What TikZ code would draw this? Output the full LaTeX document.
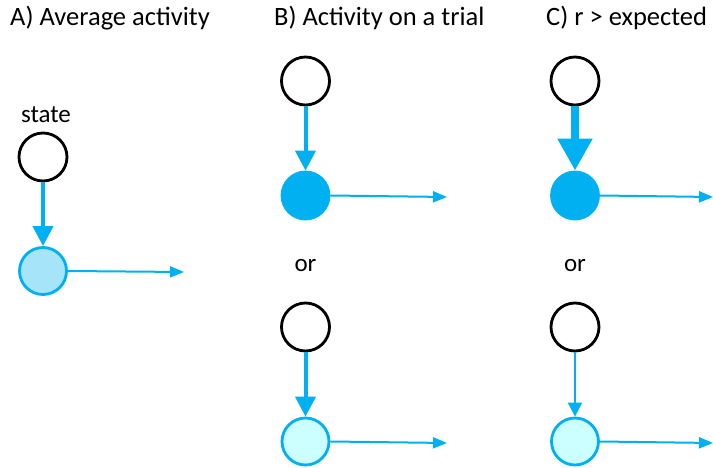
\documentclass[tikz,border=0pt]{standalone}
\usepackage{fontspec}
\setmainfont{Carlito}
\usetikzlibrary{arrows.meta}
\definecolor{cblue}{RGB}{0,176,240}
\definecolor{afill}{RGB}{166,228,250}
\definecolor{lfill}{RGB}{204,255,255}
\tikzset{
  statenode/.style={circle,draw=black,line width=2.8pt,minimum size=48pt,inner sep=0pt,fill=white},
  actnode/.style={circle,draw=cblue,line width=2.8pt,minimum size=47pt,inner sep=0pt},
  lbl/.style={font=\fontsize{25}{29}\selectfont,inner sep=0pt},
  title/.style={font=\fontsize{26.5}{30}\selectfont,inner sep=0pt},
  vmid/.style={draw=cblue,line width=4pt,-{Triangle[length=20pt,width=20pt]}},
  vthick/.style={draw=cblue,line width=8.5pt,-{Triangle[length=32pt,width=33pt]}},
  vthin/.style={draw=cblue,line width=1.8pt,-{Triangle[length=14pt,width=14pt]}},
  hout/.style={draw=cblue,line width=2pt,-{Triangle[length=14pt,width=11pt]}}
}
\begin{document}
\begin{tikzpicture}[x=1pt,y=-1pt]
\useasboundingbox (0,0) rectangle (713,468);
% titles
\node[title,anchor=base west] (ta) at (10,26) {A) Average activity};
\node[title,anchor=base west] (tb) at (274,26) {B) Activity on a trial};
\node[title,anchor=base west] (tc) at (546,26) {C) r > expected};
% panel A
\node[lbl,anchor=base] (st) at (46,123) {state};
\node[statenode] (a1) at (43,157) {};
\node[actnode,fill=afill] (a2) at (43,271) {};
\coordinate (ae) at (184,272);
\draw[vmid] (a1.south) -- (a2.north);
\draw[hout] (a2.east) -- (ae);
% panel B top
\node[statenode] (b1) at (305.5,81) {};
\node[actnode,fill=cblue] (b2) at (305.5,195.5) {};
\coordinate (be) at (447,197);
\draw[vmid] (b1.south) -- (b2.north);
\draw[hout] (b2.east) -- (be);
\node[lbl,anchor=base] (bor) at (305.5,271) {or};
% panel B bottom
\node[statenode] (b3) at (305.5,327) {};
\node[actnode,fill=lfill] (b4) at (305.5,441.5) {};
\coordinate (be2) at (447,443);
\draw[vmid] (b3.south) -- (b4.north);
\draw[hout] (b4.east) -- (be2);
% panel C top
\node[statenode] (c1) at (575,81) {};
\node[actnode,fill=cblue] (c2) at (575,195.5) {};
\coordinate (ce) at (713,197);
\draw[vthick] (c1.south) -- (c2.north);
\draw[hout] (c2.east) -- (ce);
\node[lbl,anchor=base] (cor) at (575,271) {or};
% panel C bottom
\node[statenode] (c3) at (575,327) {};
\node[actnode,fill=lfill] (c4) at (575,441.5) {};
\coordinate (ce2) at (713,443);
\draw[vthin] (c3.south) -- (c4.north);
\draw[hout] (c4.east) -- (ce2);
\end{tikzpicture}
\end{document}
